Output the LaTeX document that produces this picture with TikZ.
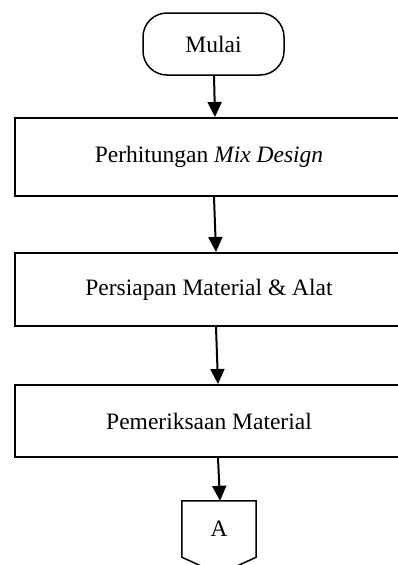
\documentclass[tikz,border=0pt]{standalone}
\usepackage{fontspec}
\setmainfont{Liberation Serif}
\usetikzlibrary{arrows.meta,calc}
\begin{document}
\begin{tikzpicture}[x=1pt,y=-1pt,
  every node/.style={font=\fontsize{23.5}{28}\selectfont, inner sep=0pt},
  procbox/.style={draw, line width=2pt, minimum width=388pt},
  termbox/.style={draw, line width=1.5pt, rounded corners=24pt, minimum width=141pt, minimum height=62pt},
  flowarrow/.style={line width=2pt, -{Triangle[length=15pt,width=14pt]}},
  offpage/.style={line width=1.5pt, line join=miter}
]
\useasboundingbox (0,0) rectangle (397,565);
\node[termbox] (t) at (213.5,44) {Mulai};
\node[procbox, minimum height=78pt] (b1) at (209,157) {Perhitungan \textit{Mix Design}};
\node[procbox, minimum height=73pt] (b2) at (209,289.5) {Persiapan Material \& Alat};
\node[procbox, minimum height=72pt] (b3) at (209,421) {Pemeriksaan Material};
\node[minimum width=74pt, minimum height=56pt] (c) at (219,529) {A};
\draw[offpage] (c.north west) -- (c.north east) -- (c.south east) -- ($(c.south)+(0,17)$) -- (c.south west) -- cycle;
\draw[flowarrow] ([xshift=0.5pt]t.south) -- ([xshift=6pt]b1.north);
\draw[flowarrow] ([xshift=5pt]b1.south) -- ([xshift=7pt]b2.north);
\draw[flowarrow] ([xshift=7pt]b2.south) -- ([xshift=9pt]b3.north);
\draw[flowarrow] ([xshift=9pt]b3.south) -- ([xshift=1pt]c.north);
\end{tikzpicture}
\end{document}
